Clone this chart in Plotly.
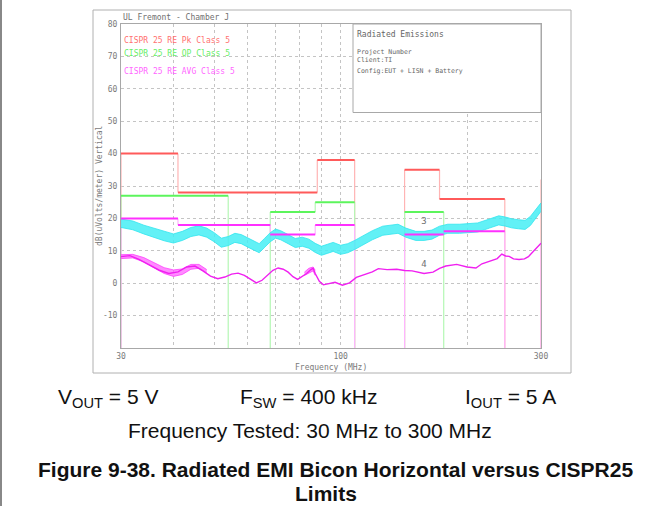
import math
import plotly.graph_objects as go

# ---------------- data ----------------
# CISPR 25 Class 5 limit segments (MHz, dBuV/m)
pk_start = [30, 41, 88, 142, 172, 300]
pk_stop = [41, 88, 108, 172, 246, 330]
pk_level = [40, 28, 38, 35, 26, 32]

qp_start = [30, 68, 87, 142]
qp_stop = [54, 87, 108, 176]
qp_level = [27, 22, 25, 22]

avg_start = [30, 41, 68, 87, 142, 176, 300]
avg_stop = [41, 68, 87, 108, 176, 246, 330]
avg_level = [20, 18, 15, 18, 15, 16, 13]

# Peak scan (cyan) read as upper / lower envelope of the noisy trace
cyan_freq = [30, 32, 34, 36, 38, 40, 42, 44, 46, 48, 50, 52, 54, 56, 58, 60, 62, 64, 66, 68,
             70, 72, 75, 78, 81, 84, 87, 90, 93, 96, 100, 104, 108, 113, 119, 126, 132, 137,
             143, 151, 158, 165, 172, 180, 192, 200, 212, 226, 238, 247, 255, 265, 275, 283,
             290, 295, 300]
cyan_hi = [19.8, 19.2, 17.9, 16.9, 15.9, 15.2, 16.0, 17.2, 17.7, 17.0, 15.6, 13.9, 14.4, 15.4,
           15.0, 14.0, 13.0, 12.2, 13.9, 15.6, 16.7, 16.2, 15.0, 13.8, 14.2, 13.6, 12.3, 11.4,
           12.0, 12.6, 11.7, 12.2, 13.2, 14.6, 16.2, 17.6, 18.0, 18.2, 17.0, 16.0, 16.0, 16.4,
           17.6, 18.2, 18.2, 18.4, 18.6, 19.8, 20.8, 20.4, 19.9, 19.6, 19.4, 20.6, 22.4, 23.6,
           24.8]
cyan_lo = [17.2, 16.5, 15.2, 14.1, 13.1, 12.4, 13.2, 14.4, 14.9, 14.2, 12.8, 11.1, 11.6, 12.6,
           12.2, 11.2, 10.2, 9.4, 11.1, 12.8, 13.9, 13.4, 12.2, 11.0, 11.4, 10.8, 9.5, 8.6,
           9.2, 9.8, 8.9, 9.4, 10.4, 11.8, 13.4, 14.8, 15.2, 15.4, 14.2, 13.2, 13.2, 13.6,
           14.8, 15.4, 15.4, 15.6, 15.8, 17.0, 18.0, 17.6, 17.1, 16.8, 16.6, 17.8, 19.6, 20.8,
           22.2]

# Average scan (magenta)
avg_freq = [30, 31.5, 33, 35, 37, 39, 41, 43, 45, 47, 49, 51, 53, 55, 57, 59, 61, 63, 65, 67,
            69, 71, 73, 75, 77, 79, 81, 83, 85, 86, 87, 89, 91, 94, 97, 101, 105, 109, 113, 119,
            123, 129, 136, 142, 148, 154, 158, 166, 172, 178, 189, 200, 210, 217, 229, 236, 242,
            247, 252, 258, 266, 274, 280, 287, 294, 300]
avg_val = [8.2, 8.5, 7.4, 5.6, 4.0, 3.0, 3.5, 5.0, 5.3, 3.8, 2.2, 1.4, 1.9, 2.8, 3.1, 2.4, 1.2,
           0.1, 0.9, 2.4, 4.0, 4.7, 4.3, 3.4, 2.0, 1.2, 2.0, 3.0, 4.2, 4.6, 3.0, 0.6, -0.5, 0.0,
           0.3, -0.6, 0.1, 1.8, 2.4, 3.5, 4.5, 4.2, 4.3, 3.9, 3.8, 3.4, 3.0, 3.4, 4.6, 5.3, 5.8,
           5.0, 4.7, 6.0, 6.9, 7.6, 9.0, 8.4, 8.3, 7.5, 7.3, 7.5, 8.2, 9.7, 11.0, 12.3]
# ripple envelopes of the average trace
avg_band1_f = [30, 32, 34, 36, 38, 40, 42, 44, 46, 48]
avg_band1_hi = [8.8, 8.9, 7.9, 6.2, 4.8, 4.1, 4.4, 5.8, 5.8, 4.2]
avg_band1_lo = [7.6, 7.8, 6.6, 4.7, 3.0, 2.1, 2.7, 4.3, 4.6, 3.2]
avg_band2_f = [82, 84, 86, 87]
avg_band2_hi = [3.4, 4.6, 5.0, 4.0]
avg_band2_lo = [2.4, 3.0, 3.8, 2.4]

x_tickvals = [30, 40, 50, 60, 70, 80, 90, 100, 200, 300]
x_ticktext = ["30", "", "", "", "", "", "", "100", "", "300"]
y_tickvals = [-10, 0, 10, 20, 30, 40, 50, 60, 70, 80]
y_ticktext = ["-10", "0", "10", "20", "30", "40", "50", "60", "70", "80"]

marker_freq = [158, 158]
marker_level = [19.0, 5.7]
marker_text = ["3", "4"]

# ---------------- figure ----------------
W, H = 653, 506
L, R, T, B = 121, 541, 24, 348
Y_BOTTOM = -20


def px(x):
    return (x - L) / (R - L)


def py(y):
    return (B - y) / (B - T)


def limit_xy(starts, stops, levels):
    hx, hy, vx, vy = [], [], [], []
    n = len(starts)
    for i in range(n):
        hx += [starts[i], stops[i], None]
        hy += [levels[i], levels[i], None]
        if i > 0 and stops[i - 1] == starts[i]:
            vx += [starts[i], starts[i], None]
            vy += [levels[i - 1], levels[i], None]
        else:
            vx += [starts[i], starts[i], None]
            vy += [Y_BOTTOM, levels[i], None]
        if not (i < n - 1 and starts[i + 1] == stops[i]):
            vx += [stops[i], stops[i], None]
            vy += [levels[i], Y_BOTTOM, None]
    return hx, hy, vx, vy


fig = go.Figure()

limits = [
    (pk_start, pk_stop, pk_level, "#ff5a5a", "#ffb4b4"),
    (qp_start, qp_stop, qp_level, "#5cf55c", "#b4f7b4"),
    (avg_start, avg_stop, avg_level, "#ff30ff", "#ffb4ff"),
]
horiz = []
for s, e, lv, hc, vc in limits:
    hx, hy, vx, vy = limit_xy(s, e, lv)
    fig.add_trace(go.Scatter(x=vx, y=vy, mode="lines", line=dict(color=vc, width=1.2),
                             hoverinfo="skip"))
    horiz.append((hx, hy, hc))

# cyan peak trace band
fig.add_trace(go.Scatter(x=cyan_freq, y=cyan_lo, mode="lines",
                         line=dict(color="#30e4ee", width=0.8)))
fig.add_trace(go.Scatter(x=cyan_freq, y=cyan_hi, mode="lines", fill="tonexty",
                         fillcolor="rgba(70,238,245,0.85)", line=dict(color="#30e4ee", width=0.8)))

# magenta average trace
fig.add_trace(go.Scatter(x=avg_band1_f, y=avg_band1_lo, mode="lines",
                         line=dict(color="#ff40ff", width=0.8)))
fig.add_trace(go.Scatter(x=avg_band1_f, y=avg_band1_hi, mode="lines", fill="tonexty",
                         fillcolor="rgba(255,90,255,0.7)", line=dict(color="#ff40ff", width=0.8)))
fig.add_trace(go.Scatter(x=avg_band2_f, y=avg_band2_lo, mode="lines",
                         line=dict(color="#ff40ff", width=0.8)))
fig.add_trace(go.Scatter(x=avg_band2_f, y=avg_band2_hi, mode="lines", fill="tonexty",
                         fillcolor="rgba(255,90,255,0.7)", line=dict(color="#ff40ff", width=0.8)))
fig.add_trace(go.Scatter(x=avg_freq, y=avg_val, mode="lines",
                         line=dict(color="#f020f0", width=1.4)))

for hx, hy, hc in horiz:
    fig.add_trace(go.Scatter(x=hx, y=hy, mode="lines", line=dict(color=hc, width=2)))

fig.add_trace(go.Scatter(x=marker_freq, y=marker_level, mode="text", text=marker_text,
                         textfont=dict(family="DejaVu Sans Mono", size=9, color="#707070")))

grid = dict(showgrid=True, gridcolor="#c4c4c4", gridwidth=1, griddash="dot",
            showline=True, linecolor="#a8a8a8", linewidth=1, mirror=True, zeroline=False,
            ticks="", tickfont=dict(family="DejaVu Sans Mono", size=8, color="#7a7a7a"))

fig.update_layout(
    width=W, height=H,
    margin=dict(l=L, r=W - R, t=T, b=H - B, pad=0),
    paper_bgcolor="white", plot_bgcolor="white",
    showlegend=False,
    xaxis=dict(type="log", range=[math.log10(30), math.log10(300)],
               tickvals=x_tickvals, ticktext=x_ticktext, ticklabelstandoff=0, **grid),
    yaxis=dict(range=[Y_BOTTOM, 80], tickvals=y_tickvals, ticktext=y_ticktext,
               ticklabelstandoff=1, **grid),
)

shapes = [
    # outer frame of instrument plot
    dict(type="rect", xref="paper", yref="paper", x0=px(93), x1=px(571), y0=py(373), y1=py(10),
         line=dict(color="#b0b0b0", width=1), layer="below"),
    # page left border
    dict(type="line", xref="paper", yref="paper", x0=px(1), x1=px(1), y0=py(506), y1=py(0),
         line=dict(color="#888888", width=2)),
    # info box
    dict(type="rect", xref="paper", yref="paper", x0=px(353), x1=1, y0=py(112.5), y1=1,
         line=dict(color="#a8a8a8", width=1), fillcolor="white", layer="above"),
]
fig.update_layout(shapes=shapes)

ann = []


def text(x, y, s, size, color, family="Liberation Sans", xanchor="left", angle=0):
    ann.append(dict(xref="paper", yref="paper", x=px(x), y=py(y), text=s, showarrow=False,
                    xanchor=xanchor, yanchor="middle", textangle=angle,
                    font=dict(family=family, size=size, color=color)))


mono = "DejaVu Sans Mono"
text(121, 17.5, "UL Fremont - Chamber J", 8, "#707070", family=mono)
text(122, 40, "CISPR 25 RE Pk Class 5", 8, "#ff7070", family=mono)
text(122, 53.5, "CISPR 25 RE QP Class 5", 8, "#66ee66", family=mono)
text(122, 71.5, "CISPR 25 RE AVG Class 5", 8, "#ff66ff", family=mono)
text(355, 34.5, "Radiated Emissions", 8, "#666666", family=mono)
text(355, 51.5, "Project Number", 6.5, "#666666", family=mono)
text(355, 60.5, "Client:TI", 6.5, "#666666", family=mono)
text(355, 71, "Config:EUT + LISN + Battery", 6.5, "#666666", family=mono)
text(331, 367, "Frequency (MHz)", 8, "#7a7a7a", family=mono, xanchor="center")
text(99, 186, "dB(uVolts/meter) Vertical", 8, "#7a7a7a", family=mono, xanchor="center",
     angle=-90)

cap = "#111111"
text(108, 398, "V<sub>OUT</sub> = 5 V", 21, cap, xanchor="center")
text(308, 398, "F<sub>SW</sub> = 400 kHz", 21, cap, xanchor="center")
text(510, 398, "I<sub>OUT</sub> = 5 A", 21, cap, xanchor="center")
text(310, 430, "Frequency Tested: 30 MHz to 300 MHz", 21, cap, xanchor="center")
text(335.5, 470, "<b>Figure 9-38. Radiated EMI Bicon Horizontal versus CISPR25</b>", 21, cap,
     xanchor="center")
text(326, 493, "<b>Limits</b>", 21, cap, xanchor="center")

fig.update_layout(annotations=ann)

fig.write_html("out.html", config={"displayModeBar": False},
               post_script="document.body.style.margin='0';document.body.style.overflow='hidden';")
